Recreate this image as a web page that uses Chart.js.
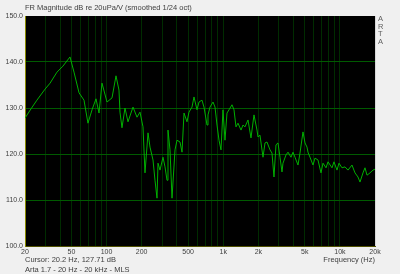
<!DOCTYPE html>
<html>
<head>
<meta charset="utf-8">
<script src="https://cdn.jsdelivr.net/npm/chart.js@4/dist/chart.umd.min.js"></script>
<style>
  html, body { margin:0; padding:0; background:#f0f0f0; }
  #wrap { position:relative; width:400px; height:274px; overflow:hidden; background:#f0f0f0; }
  canvas { position:absolute; left:0; top:0; }
  .t { position:absolute; font-family:"Liberation Sans Narrow","Liberation Sans",Arial,sans-serif; color:#404040; white-space:nowrap; font-size:7.5px; line-height:8px; }
</style>
</head>
<body>
<div id="wrap">
  <canvas id="c" width="400" height="274"></canvas>
  <div class="t" style="left:25px;top:4px;">FR Magnitude dB re 20uPa/V (smoothed 1/24 oct)</div>
  <div class="t" style="left:378px;top:15px;line-height:7.5px;color:#606060;">A<br>R<br>T<br>A</div>
  <div class="t" style="left:25px;top:256px;">Cursor: 20.2 Hz, 127.71 dB</div>
  <div class="t" style="left:25px;top:266px;">Arta 1.7 - 20 Hz - 20 kHz - MLS</div>
  <div class="t" style="right:25px;top:256px;">Frequency (Hz)</div>
</div>
<script>
// Frequency response
const freqHz = [20.0,22.5,25.3,29.7,32.8,37.6,42.3,48.6,52.6,58.1,64.1,69.3,75.1,81.2,86.2,91.4,100.9,111.4,120.5,127.8,130.4,135.6,143.9,152.7,168.6,182.4,193.5,205.3,213.6,226.7,235.8,250.2,260.2,270.7,276.1,287.2,304.7,317.0,329.8,336.3,349.9,364.0,386.2,401.8,426.3,443.5,461.3,489.3,509.0,540.1,561.8,596.1,620.1,657.9,684.3,726.2,740.6,770.6,817.7,850.6,884.8,920.3,957.2,995.7,1035.8,1077.4,1120.6,1189.4,1237.3,1286.7,1338.6,1420.6,1477.6,1537.2,1630.7,1730.2,1836.0,1947.8,1986.7,2066,2193,2281,2373,2518,2619,2724,2834,2948,3067,3190,3254,3453,3592,3811,3964,4124,4375,4551,4829,5024,5226,5330,5545,5883,6120,6493,6889,7167,7604,7910,8559,8903,9446,9826,10426,11062,11737,12699,13474,14296,14873,15780,16417,17079,18121,19225,20000];
const magDb = [127.8,129.8,131.7,134.1,135.4,137.8,139.1,141.1,137.8,133.3,131.7,126.7,129.6,132.0,128.9,135.4,131.3,132.2,137.0,133.9,129.1,125.7,130.0,127.0,130.2,128.0,129.1,125.9,115.9,124.6,121.5,118.7,114.3,110.4,118.0,116.5,119.3,117.2,114.3,125.2,120.9,110.4,120.9,123.0,122.6,120.4,128.9,127.0,129.1,130.2,132.4,129.6,131.3,131.7,130.2,126.3,128.5,130.2,131.3,130.2,126.3,123.0,120.9,129.6,123.0,128.9,129.6,130.7,129.6,125.9,126.7,125.2,126.3,125.9,127.4,123.5,128.5,125.2,123.7,124.1,119.3,122.4,122.6,120.9,120.2,115.0,122.0,122.4,119.3,116.1,118.0,119.8,120.4,119.3,120.4,119.3,117.6,120.2,124.8,122.4,121.5,120.4,119.3,117.6,119.1,118.7,115.9,118.0,117.0,118.3,117.0,118.3,116.5,118.0,117.0,117.2,116.5,117.6,115.9,115.0,113.9,115.9,117.0,115.4,115.9,116.5,116.7];

// Axis ticks
const xLabelValues = [20,50,100,200,500,1000,2000,5000,10000,20000];
const xLabelTexts  = ['20','50','100','200','500','1k','2k','5k','10k','20k'];
const xGridValues = [20,30,40,50,60,70,80,90,100,200,300,400,500,600,700,800,900,1000,2000,3000,4000,5000,6000,7000,8000,9000,10000,20000];
const yMin = 100, yMax = 150, yStep = 10;

const bgPlugin = {
  id:'bg',
  beforeDraw(chart){
    const {ctx, chartArea:a} = chart;
    ctx.save();
    ctx.fillStyle = '#000000';
    ctx.fillRect(a.left, a.top, a.right-a.left, a.bottom-a.top);
    ctx.restore();
  },
  afterDraw(chart){
    const {ctx, chartArea:a} = chart;
    ctx.save();
    ctx.strokeStyle = '#d8d8d8';
    ctx.lineWidth = 1;
    ctx.beginPath();
    ctx.moveTo(a.right+0.5, a.top);
    ctx.lineTo(a.right+0.5, a.bottom);
    ctx.stroke();
    ctx.restore();
  }
};

const tickFont = { family:'"Liberation Sans Narrow","Liberation Sans",Arial,sans-serif', size:7 };

new Chart(document.getElementById('c'), {
  type:'line',
  data:{
    datasets:[{
      data: freqHz.map((f,i)=>({x:f, y:magDb[i]})),
      borderColor:'#00b000',
      borderWidth:1,
      pointRadius:0,
      tension:0,
      fill:false
    }]
  },
  options:{
    responsive:false,
    animation:false,
    devicePixelRatio:1,
    layout:{ padding:{ top:16, right:25, left:0, bottom:0 } },
    plugins:{ legend:{display:false}, tooltip:{enabled:false}, title:{display:false} },
    scales:{
      x:{
        type:'logarithmic',
        min:20, max:20000,
        afterBuildTicks(scale){ scale.ticks = xGridValues.map(v=>({value:v})); },
        afterFit(scale){ scale.height = 28; },
        ticks:{
          autoSkip:false, maxRotation:0, minRotation:0, padding:2,
          color:'#404040', font:tickFont,
          callback(v){ const i = xLabelValues.indexOf(v); return i>=0 ? xLabelTexts[i] : ''; }
        },
        grid:{
          color(ctx){ const v = ctx.tick && ctx.tick.value; return (v===20||v===20000) ? 'rgba(0,0,0,0)' : '#002c00'; },
          lineWidth:1, drawTicks:false
        },
        border:{ display:true, color:'#505000' }
      },
      y:{
        type:'linear',
        min:yMin, max:yMax,
        afterFit(scale){ scale.width = 25; },
        ticks:{
          stepSize:yStep, padding:2, color:'#404040', font:tickFont,
          callback(v){ return Number(v).toFixed(1); }
        },
        grid:{
          color(ctx){ const v = ctx.tick && ctx.tick.value; return (v===yMin||v===yMax) ? 'rgba(0,0,0,0)' : '#005a00'; },
          lineWidth:1, drawTicks:false
        },
        border:{ display:true, color:'#8a8a00' }
      }
    }
  },
  plugins:[bgPlugin]
});
</script>
</body>
</html>
